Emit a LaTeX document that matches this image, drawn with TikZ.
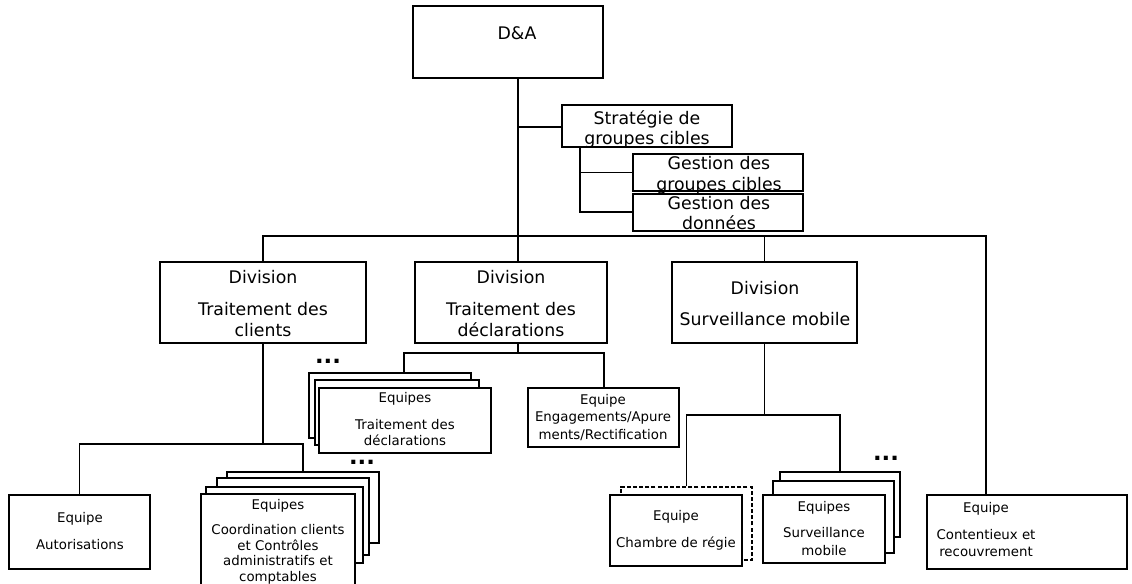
\documentclass[tikz,border=0pt]{standalone}
\usepackage{fontspec}
\setmainfont{DejaVu Sans}
\begin{document}
\begin{tikzpicture}[x=0.75pt,y=-0.75pt,
  box/.style={draw, fill=white, line width=0.95pt, inner sep=0pt},
  dbox/.style={box, dash pattern=on 3pt off 1.6pt},
  conn/.style={line width=0.95pt},
  big/.style={font=\fontsize{13}{15}\selectfont, anchor=mid, inner sep=0pt, yshift=-2pt},
  small/.style={font=\fontsize{10}{12}\selectfont, anchor=mid, inner sep=0pt},
  dots/.style={font=\fontsize{17}{19}\selectfont\bfseries, inner sep=0pt}]
\useasboundingbox (0,0) rectangle (1132,584);
\newcommand\bx[6][box]{\node[#1,minimum width={(#5-#3)*0.75pt},minimum height={(#6-#4)*0.75pt}] (#2) at ({(#3+#5)/2},{(#4+#6)/2}) {};}
% boxes
\bx{da}{413}{6}{603}{78}
\bx{strat}{562}{105}{732}{147}
\bx{ggc}{633}{154}{803}{191}
\bx{gdd}{633}{194}{803}{231}
\bx{divc}{160}{262}{366}{343}
\bx{divd}{415}{262}{607}{343}
\bx{divs}{672}{262}{857}{343}
\bx{tdd3}{309}{373}{471}{438}
\bx{tdd2}{315}{380}{479}{445}
\bx{tdd1}{319}{388}{491}{453}
\bx{eng}{528}{388}{679}{447}
\bx{aut}{9}{495}{150}{569}
\bx{coo4}{227}{472}{379}{543}
\bx{coo3}{217}{478}{369}{555}
\bx{coo2}{206}{487}{363}{563}
\bx{coo1}{201}{494}{355}{600}
\bx[dbox]{chd}{621}{487}{752}{560}
\bx{ch}{610}{495}{742}{566}
\bx{sm3}{780}{472}{900}{537}
\bx{sm2}{773}{481}{894}{553}
\bx{sm1}{763}{495}{885}{563}
\bx{cont}{927}{495}{1127}{569}
% junctions
\coordinate (j0) at (518,236);
\coordinate (jr) at (986,236);
\coordinate (js) at (518,127);
\coordinate (sbx) at (580,212);
\coordinate (dd) at (518,353);
\coordinate (dl) at (404,353);
\coordinate (dr) at (604,353);
\coordinate (cl) at (79,444);
\coordinate (cr) at (303,444);
\coordinate (sl) at (687,415);
\coordinate (sr) at (840,415);
% connectors
\draw[conn] (da.south -| j0) -- (divd.north -| j0);
\draw[conn] (js) -- (strat.west |- js);
\draw[conn] (divc.north) |- (jr) -- (cont.north -| jr);
\draw[conn] (divs.north) -- (divs.north |- jr);
\draw[conn] (strat.south -| sbx) -- (sbx) -- (gdd.west |- sbx);
\draw[conn] (ggc.west) -- (ggc.west -| sbx);
\draw[conn] (divd.south -| dd) -- (dd);
\draw[conn] (tdd3.north -| dl) |- (dr) -- (eng.north -| dr);
\draw[conn] (divc.south) -- (divc.south |- cl);
\draw[conn] (aut.north) |- (cr) -- (coo4.north -| cr);
\draw[conn] (divs.south) -- (divs.south |- sl);
\draw[conn] (chd.north) |- (sr) -- (sm3.north);
% texts
\node[big] (tda) at (517,33) {D\&A};
\node[big] (ts1) at (647,118) {Stratégie de};
\node[big] (ts2) at (647,138) {groupes cibles};
\node[big] (tg1) at (719,163) {Gestion des};
\node[big] (tg2) at (719,184) {groupes cibles};
\node[big] (tg3) at (719,203) {Gestion des};
\node[big] (tg4) at (719,223) {données};
\node[big] (tc1) at (263,277) {Division};
\node[big] (tc2) at (263,309) {Traitement des};
\node[big] (tc3) at (263,330) {clients};
\node[big] (td1) at (511,277) {Division};
\node[big] (td2) at (511,309) {Traitement des};
\node[big] (td3) at (511,330) {déclarations};
\node[big] (tm1) at (765,288) {Division};
\node[big] (tm2) at (765,319) {Surveillance mobile};
\node[small] (te1) at (405,399) {Equipes};
\node[small] (te2) at (405,426) {Traitement des};
\node[small] (te3) at (405,442) {déclarations};
\node[small] (tn1) at (603,401) {Equipe};
\node[small] (tn2) at (603,418) {Engagements/Apure};
\node[small] (tn3) at (603,436) {ments/Rectification};
\node[small] (ta1) at (80,519) {Equipe};
\node[small] (ta2) at (80,546) {Autorisations};
\node[small] (to1) at (278,506) {Equipes};
\node[small] (to2) at (278,531) {Coordination clients};
\node[small] (to3) at (278,547) {et Contrôles};
\node[small] (to4) at (278,562) {administratifs et};
\node[small] (to5) at (278,578) {comptables};
\node[small] (th1) at (676,517) {Equipe};
\node[small] (th2) at (676,544) {Chambre de régie};
\node[small] (tv1) at (824,508) {Equipes};
\node[small] (tv2) at (824,534) {Surveillance};
\node[small] (tv3) at (824,552) {mobile};
\node[small] (tt1) at (986,509) {Equipe};
\node[small] (tt2) at (986,536) {Contentieux et};
\node[small] (tt3) at (986,553) {recouvrement};
\node[dots] (d1) at (328,361) {...};
\node[dots] (d2) at (362,462) {...};
\node[dots] (d3) at (886,458) {...};
\end{tikzpicture}
\end{document}
